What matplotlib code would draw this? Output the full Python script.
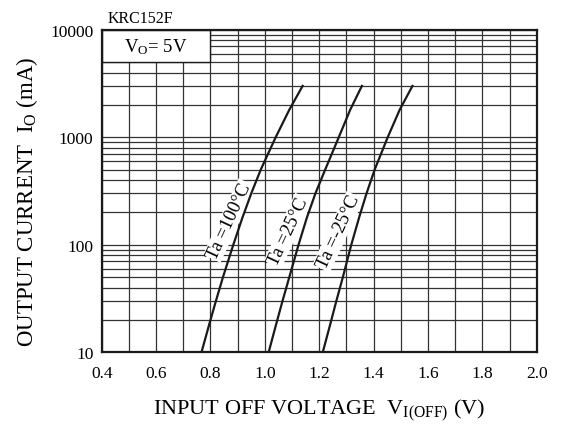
import matplotlib
matplotlib.use("Agg")
import matplotlib.pyplot as plt
import matplotlib.ticker as mticker
from matplotlib.patches import Rectangle

plt.rcParams['font.family'] = ['Liberation Serif', 'DejaVu Serif']
plt.rcParams['mathtext.fontset'] = 'custom'
plt.rcParams['mathtext.rm'] = 'Liberation Serif'
plt.rcParams['mathtext.it'] = 'Liberation Serif:italic'

# output current levels (mA) and input off voltage (V) for each temperature
current_ma = [10, 18, 30, 50, 100, 180, 300, 500, 1000, 1800, 3000]
v_ta_100 = [0.767, 0.795, 0.820, 0.846, 0.884, 0.918, 0.950, 0.985, 1.040, 1.090, 1.139]
v_ta_25 = [1.014, 1.041, 1.065, 1.090, 1.124, 1.155, 1.186, 1.222, 1.272, 1.314, 1.357]
v_ta_m25 = [1.213, 1.240, 1.263, 1.287, 1.318, 1.347, 1.374, 1.404, 1.452, 1.496, 1.543]

curve_labels = ["Ta =100°C", "Ta =25°C", "Ta =-25°C"]
x_ticks = [0.4, 0.6, 0.8, 1.0, 1.2, 1.4, 1.6, 1.8, 2.0]
y_ticks = [10, 100, 1000, 10000]

fig = plt.figure(figsize=(5.61, 4.35), dpi=100)
ax = fig.add_axes([0.1813, 0.1878, 0.7754, 0.7416])

ax.set_yscale('log')
ax.set_xlim(0.4, 2.0)
ax.set_ylim(10, 10000)

# grid: every 0.1 V and every 1-9 step of each decade
ax.set_xticks(x_ticks)
ax.set_xticklabels([f"{t:.1f}" for t in x_ticks])
ax.xaxis.set_minor_locator(mticker.MultipleLocator(0.1))
ax.set_yticks(y_ticks)
ax.set_yticklabels([str(t) for t in y_ticks])
ax.yaxis.set_minor_locator(mticker.LogLocator(base=10, subs=range(2, 10)))
ax.yaxis.set_minor_formatter(mticker.NullFormatter())
ax.grid(True, which='both', color='#333333', linewidth=0.9)
ax.set_axisbelow(True)

ax.tick_params(which='both', length=0, labelsize=12.5)
ax.tick_params(axis='y', pad=6)
ax.tick_params(axis='x', pad=9)
for s in ax.spines.values():
    s.set_linewidth(1.6)
    s.set_color('#1a1a1a')

for v in [v_ta_100, v_ta_25, v_ta_m25]:
    ax.plot(v, current_ma, color='#1a1a1a', linewidth=1.6, zorder=4)

# temperature labels along the curves
label_pos = [(0.870, 168), (1.086, 135), (1.270, 132)]
for (x, y), txt in zip(label_pos, curve_labels):
    ax.text(x, y, txt, rotation=65, ha='center', va='center', fontsize=13.5,
            zorder=3, bbox=dict(facecolor='white', edgecolor='none', pad=0.8))

# condition box in the top left corner
ax.add_patch(Rectangle((0.4, 5000), 0.4, 5000, facecolor='white',
                       edgecolor='#1a1a1a', linewidth=1.0, zorder=2.5))
ax.text(0.6, 7100, r"V$_\mathrm{O}$= 5V", ha='center', va='center',
        fontsize=13.5, zorder=3)

fig.text(0.191, 0.956, "KRC152F", fontsize=11.5, ha='left', va='center')

ax.set_xlabel(r"INPUT OFF VOLTAGE  V$_\mathrm{I(OFF)}$ (V)", fontsize=16,
              labelpad=11)
ax.set_ylabel(r"OUTPUT CURRENT  I$_\mathrm{O}$ (mA)", fontsize=16.5,
              labelpad=7, y=0.47)

fig.savefig('out.png', dpi=100, facecolor='white')
